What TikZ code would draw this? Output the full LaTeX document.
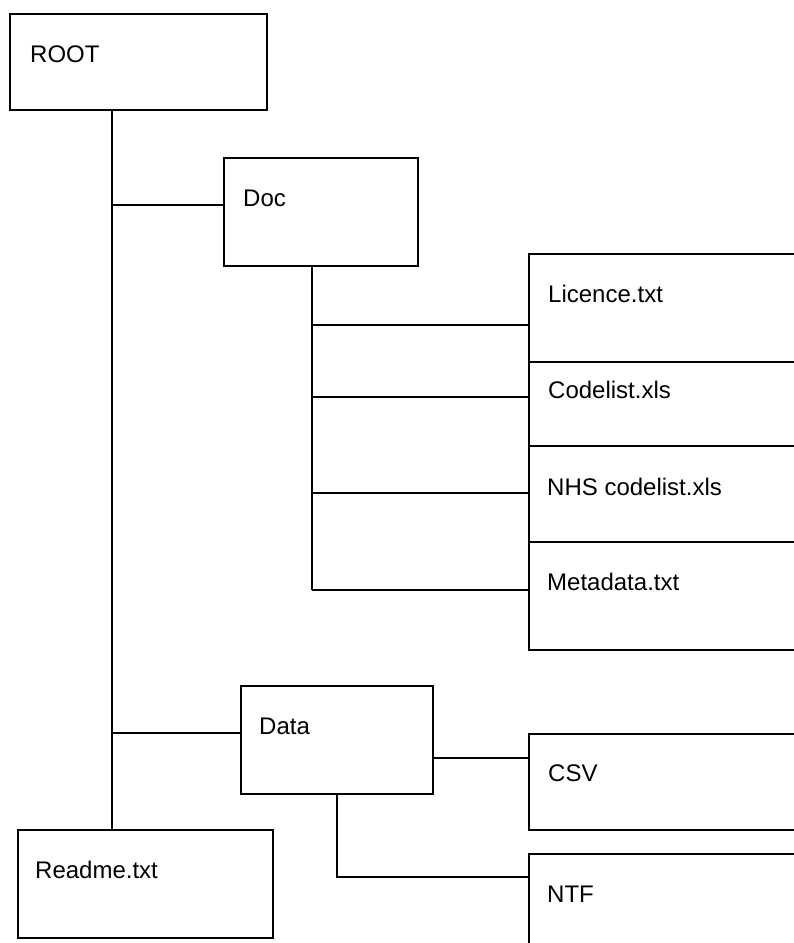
\documentclass[tikz,border=0pt]{standalone}
\usepackage{fontspec}
\setmainfont{Liberation Sans}
\begin{document}
\begin{tikzpicture}[x=1pt,y=-1pt,
  box/.style={draw,line width=1.8pt,minimum width=#1,inner sep=0pt,anchor=north west},
  lbl/.style={anchor=base west,inner sep=0pt,font=\fontsize{24}{28}\selectfont},
  conn/.style={line width=1.8pt}]
\clip (0,0) rectangle (794,943);
\fill[white] (0,0) rectangle (794,943);
% boxes
\node[box=257pt,minimum height=96pt] (ROOT) at (9,13) {};
\node[box=194pt,minimum height=108pt] (Doc) at (223,157) {};
\node[box=300pt,minimum height=108pt] (Licence) at (528,253) {};
\node[box=300pt,minimum height=84pt] (Codelist) at (528,361) {};
\node[box=300pt,minimum height=96pt] (NHS) at (528,445) {};
\node[box=300pt,minimum height=108pt] (Metadata) at (528,541) {};
\node[box=192pt,minimum height=108pt] (Data) at (240,685) {};
\node[box=300pt,minimum height=96pt] (CSV) at (528,733) {};
\node[box=300pt,minimum height=120pt] (NTF) at (528,853) {};
\node[box=255pt,minimum height=108pt] (Readme) at (17,829) {};
% labels
\node[lbl] (tROOT) at ([shift={(21,49.5)}]ROOT.north west) {ROOT};
\node[lbl] (tDoc) at ([shift={(20,49.5)}]Doc.north west) {Doc};
\node[lbl] (tLicence) at ([shift={(20,49.5)}]Licence.north west) {Licence.txt};
\node[lbl] (tCodelist) at ([shift={(20,37)}]Codelist.north west) {Codelist.xls};
\node[lbl] (tNHS) at ([shift={(19,50)}]NHS.north west) {NHS codelist.xls};
\node[lbl] (tMetadata) at ([shift={(19,49.5)}]Metadata.north west) {Metadata.txt};
\node[lbl] (tData) at ([shift={(19,49)}]Data.north west) {Data};
\node[lbl] (tCSV) at ([shift={(20,48.5)}]CSV.north west) {CSV};
\node[lbl] (tNTF) at ([shift={(19,49.5)}]NTF.north west) {NTF};
\node[lbl] (tReadme) at ([shift={(18,49)}]Readme.north west) {Readme.txt};
% connector anchor points
\coordinate (trunk) at ([xshift=103pt]ROOT.south west);
\coordinate (docv) at ([xshift=89pt]Doc.south west);
\coordinate (pDoc) at ([yshift=-48pt]Doc.north west);
\coordinate (pData) at ([yshift=-48pt]Data.north west);
\coordinate (pLic) at ([yshift=-72pt]Licence.north west);
\coordinate (pCode) at ([yshift=-36pt]Codelist.north west);
\coordinate (pNHS) at ([yshift=-48pt]NHS.north west);
\coordinate (pMeta) at ([yshift=-49pt]Metadata.north west);
\coordinate (pDataR) at ([yshift=-73pt]Data.north east);
\coordinate (pNTF) at ([yshift=-24pt]NTF.north west);
% connectors
\draw[conn] (trunk) -- (trunk |- Readme.north);
\draw[conn] (pDoc) -- (trunk |- pDoc);
\draw[conn] (pData) -- (trunk |- pData);
\draw[conn] (docv) -- (docv |- pMeta);
\draw[conn] (pLic) -- (docv |- pLic);
\draw[conn] (pCode) -- (docv |- pCode);
\draw[conn] (pNHS) -- (docv |- pNHS);
\draw[conn] (pMeta) -- (docv |- pMeta);
\draw[conn] (pDataR) -- (CSV.west |- pDataR);
\draw[conn] (Data.south) |- (pNTF);
\end{tikzpicture}
\end{document}
